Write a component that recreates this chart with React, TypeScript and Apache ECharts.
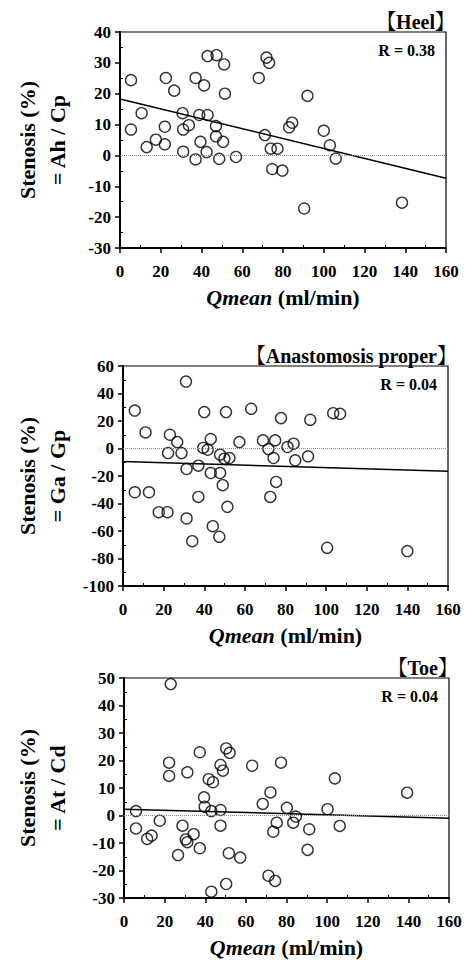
import React, { useEffect, useRef } from "react";
import * as echarts from "echarts";

// ---- Data ----
const heelQ = [5.4, 5.4, 10.6, 13.1, 17.6, 22, 22.5, 22, 26.6, 30.7, 31, 33.8, 31, 37.1, 41.3, 38.9, 43, 43, 47.4, 51.1, 51.5, 47.1, 47.1, 50.6, 39.5, 42.5, 37.1, 48.7, 56.9, 68.1, 71.9, 73.2, 71.1, 74, 77.3, 83, 84.5, 92, 100, 103, 105.9, 74.7, 79.7, 90.4, 138.4];
const heelStenosis = [24.4, 8.4, 13.7, 2.7, 5.1, 3.6, 25.1, 9.3, 21, 13.7, 8.4, 9.8, 1.2, 25.1, 22.7, 13.1, 13.1, 32.2, 32.5, 29.5, 20, 9.5, 6.2, 4.4, 4.4, 1.1, -1.3, -1.1, -0.5, 25.1, 31.7, 30, 6.6, 2.2, 2.2, 9.1, 10.6, 19.3, 8, 3.3, -1, -4.4, -4.9, -17.2, -15.3];

const anastQ = [31, 5.8, 40, 50.7, 63.1, 77.8, 92.2, 103.5, 106.9, 11.1, 23.1, 26.7, 22.2, 28.8, 43.2, 39.5, 41.7, 47.8, 49.9, 52.4, 57.3, 68.9, 74.9, 71.6, 74.1, 81, 84, 84.8, 91.1, 31.3, 37.1, 43.2, 47.8, 49.1, 75.4, 5.8, 12.8, 17.6, 21.9, 31.3, 34.1, 37.1, 44.2, 47.4, 51.4, 72.5, 100.5, 140];
const anastStenosis = [48.7, 27.6, 26.5, 26.5, 28.9, 22.1, 20.9, 25.7, 25.2, 11.7, 10, 4.7, -3.3, -3.3, 6.9, 0.4, -0.9, -4.5, -7.4, -6.9, 4.7, 5.9, 5.9, -0.4, -6.9, 1.1, 3.5, -8.6, -5.7, -14.9, -12.5, -17.8, -17.8, -26.7, -24.3, -31.8, -31.8, -46.3, -46.3, -50.9, -67.4, -35.2, -56.5, -64.2, -42.4, -35.2, -72.2, -74.6];

const toeQ = [5.9, 5.9, 11.4, 13.6, 17.6, 22.2, 22.2, 26.6, 28.8, 31.2, 30.4, 31.2, 34.3, 37.3, 37.3, 39.4, 39.7, 41.7, 43.8, 43, 43, 47.5, 48.7, 47.5, 47.5, 50.3, 52, 51.6, 50.3, 57.2, 63.1, 68.3, 72.1, 71.1, 74.4, 73.5, 75.2, 77.3, 80.2, 83.3, 84.6, 91.2, 90.4, 100.2, 103.8, 106.2, 139.4, 23];
const toeStenosis = [1.6, -4.7, -8.5, -7.3, -1.9, 19.2, 14.4, -14.4, -3.7, 15.7, -8.7, -9.7, -6.8, -11.9, 23, 6.6, 3.2, 13.2, 12.1, 1.6, -27.7, 18.4, 16.3, 2, -3.7, 24.4, 22.8, -13.7, -24.9, -15.3, 18.1, 4.2, 8.4, -21.9, -23.8, -5.9, -2.6, 19.2, 2.8, -2.6, -0.4, -5, -12.5, 2.3, 13.5, -3.8, 8.3, 47.8];

// regression lines: values at fitX
const fitX = [0, 160];
const heelFit = [18.3, -7.4];
const anastFit = [-9.5, -16.5];
const toeFit = [2.3, -1.0];

// axis ranges [min, max, interval]
const xRange = [0, 160, 20];
const heelRange = [-30, 40, 10];
const anastRange = [-100, 60, 20];
const toeRange = [-30, 50, 10];

const panelTitles = ["【Heel】", "【Anastomosis proper】", "【Toe】"];
const rLabels = ["R = 0.38", "R = 0.04", "R = 0.04"];
const yTitles = ["Stenosis (%)\n= Ah / Cp", "Stenosis (%)\n= Ga / Gp", "Stenosis (%)\n= At / Cd"];
const xTitle = "{i|Qmean} (ml/min)";

const FONT = "Liberation Serif, Noto Serif CJK JP, Noto Sans CJK JP, serif";

const grids = [
  { left: 120, top: 32, width: 326, height: 216 },
  { left: 123, top: 366, width: 325, height: 220 },
  { left: 124, top: 678, width: 325, height: 220 },
];

export default function App() {
  const ref = useRef<HTMLDivElement>(null);
  useEffect(() => {
    document.body.style.margin = "0";
    if (!ref.current) return;
    const chart = echarts.init(ref.current, null, { renderer: "svg" });

    const panels = [
      { q: heelQ, s: heelStenosis, fit: heelFit, range: heelRange },
      { q: anastQ, s: anastStenosis, fit: anastFit, range: anastRange },
      { q: toeQ, s: toeStenosis, fit: toeFit, range: toeRange },
    ];

    const labelStyle = {
      fontFamily: FONT,
      fontWeight: "bold" as const,
      fontSize: 17,
      color: "#000",
    };

    const xAxes = panels.map((_, i) => ({
      type: "value" as const,
      gridIndex: i,
      min: xRange[0],
      max: xRange[1],
      interval: xRange[2],
      splitLine: { show: false },
      axisLine: { show: true, onZero: false, lineStyle: { color: "#000", width: 2 } },
      axisTick: { show: true, inside: false, length: 5, lineStyle: { color: "#000", width: 1.5 } },
      minorTick: { show: true, splitNumber: 2, length: -3, lineStyle: { color: "#000", width: 1 } },
      axisLabel: { ...labelStyle, margin: 15 },
      name: xTitle,
      nameLocation: "middle" as const,
      nameGap: 38,
      nameTextStyle: {
        fontFamily: FONT,
        fontWeight: "bold" as const,
        fontSize: 22,
        color: "#000",
        rich: {
          i: { fontFamily: FONT, fontWeight: "bold", fontStyle: "italic", fontSize: 22, color: "#000" },
        },
      },
    }));

    const yAxes = panels.map((p, i) => ({
      type: "value" as const,
      gridIndex: i,
      min: p.range[0],
      max: p.range[1],
      interval: p.range[2],
      splitLine: { show: false },
      axisLine: { show: true, onZero: false, lineStyle: { color: "#000", width: 2 } },
      axisTick: { show: true, inside: false, length: 5, lineStyle: { color: "#000", width: 1.5 } },
      minorTick: { show: true, splitNumber: 2, length: -3, lineStyle: { color: "#000", width: 1 } },
      axisLabel: { ...labelStyle, margin: 9 },
    }));

    const series: any[] = [];
    panels.forEach((p, i) => {
      series.push({
        type: "line",
        xAxisIndex: i,
        yAxisIndex: i,
        data: fitX.map((x, j) => [x, p.fit[j]]),
        showSymbol: false,
        symbol: "none",
        lineStyle: { color: "#000", width: 1.5 },
        silent: true,
        z: 2,
        markLine: {
          silent: true,
          symbol: "none",
          label: { show: false },
          lineStyle: { type: "dotted", color: "#888", width: 1 },
          data: [{ yAxis: 0 }],
        },
      });
      series.push({
        type: "scatter",
        xAxisIndex: i,
        yAxisIndex: i,
        data: p.q.map((x, j) => [x, p.s[j]]),
        symbol: "circle",
        symbolSize: 11,
        itemStyle: { color: "rgba(0,0,0,0)", borderColor: "#000", borderWidth: 1.4 },
        z: 3,
      });
    });

    const graphics: any[] = [];
    grids.forEach((g, i) => {
      const right = g.left + g.width;
      graphics.push({
        type: "text",
        x: right + 9,
        y: g.top - 10,
        style: {
          text: panelTitles[i],
          fontFamily: FONT,
          fontWeight: "bold",
          fontSize: 20,
          fill: "#000",
          align: "right",
          verticalAlign: "middle",
        },
      });
      graphics.push({
        type: "text",
        x: right - 11,
        y: g.top + 18,
        style: {
          text: rLabels[i],
          fontFamily: FONT,
          fontWeight: "bold",
          fontSize: 16,
          fill: "#000",
          align: "right",
          verticalAlign: "middle",
        },
      });
      graphics.push({
        type: "text",
        x: 42,
        y: g.top + g.height / 2,
        rotation: Math.PI / 2,
        style: {
          text: yTitles[i],
          fontFamily: FONT,
          fontWeight: "bold",
          fontSize: 22,
          fill: "#000",
          align: "center",
          verticalAlign: "middle",
          lineHeight: 30,
        },
      });
    });

    chart.setOption({
      animation: false,
      backgroundColor: "#fff",
      grid: grids.map((g) => ({
        ...g,
        show: true,
        borderColor: "#000",
        borderWidth: 1.2,
        backgroundColor: "transparent",
        containLabel: false,
      })),
      xAxis: xAxes,
      yAxis: yAxes,
      series,
      graphic: graphics,
    });
    return () => chart.dispose();
  }, []);
  return <div ref={ref} style={{ width: 467, height: 960 }} />;
}
